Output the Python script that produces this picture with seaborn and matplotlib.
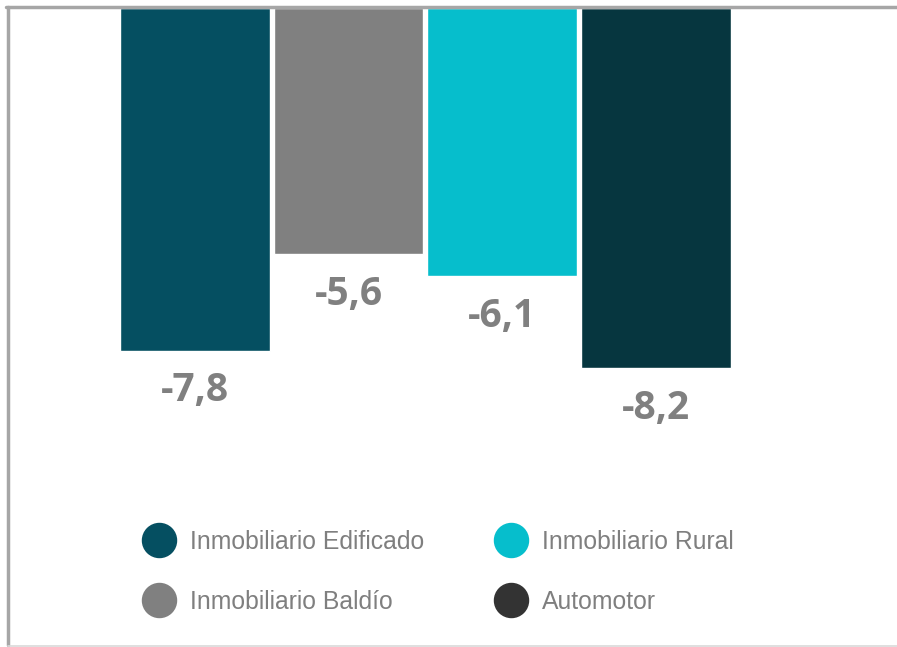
import matplotlib
matplotlib.use("Agg")
import matplotlib.pyplot as plt
import seaborn as sns
import pandas as pd
from matplotlib.lines import Line2D

# --- data ---
categories = ["Inmobiliario Edificado", "Inmobiliario Baldío", "Inmobiliario Rural", "Automotor"]
values = [-7.8, -5.6, -6.1, -8.2]
bar_colors = ["#054F61", "#808080", "#06BECC", "#06363F"]
legend_colors = ["#054F61", "#808080", "#06BECC", "#333333"]

W, H = 897, 647
fig = plt.figure(figsize=(W / 100, H / 100), dpi=100)
sns.set_style("white")
plt.rcParams["font.family"] = ["Liberation Sans", "DejaVu Sans"]

# axes: top edge at y=8px, bottom at y=645px, left 8px, right 895px
ax = fig.add_axes([8 / W, (H - 645) / H, 887 / W, 637 / H])

df = pd.DataFrame({"cat": categories, "val": values})
sns.barplot(data=df, x="cat", y="val", hue="cat", order=categories, hue_order=categories,
            palette=bar_colors, width=0.977, legend=False, saturation=1, ax=ax)

ax.set_ylim(-14.5, 0)
ax.set_xlim(-1.218, 4.56)
ax.set_xlabel("")
ax.set_ylabel("")
ax.set_xticks([])
ax.set_yticks([])
for s in ax.spines.values():
    s.set_visible(False)

# value labels below each bar
for i, v in enumerate(values):
    ax.annotate(f"{v:.1f}".replace(".", ","), xy=(i, v), xytext=(0, -15),
                textcoords="offset points", ha="center", va="top",
                fontsize=28, fontweight="bold", color="#808080",
                family=["Open Sans", "DejaVu Sans"])

# legend with circle markers
handles = [Line2D([0], [0], marker="o", linestyle="", markersize=24.5,
                  markerfacecolor=c, markeredgecolor=c) for c in legend_colors]
fig.legend(handles, categories, loc="upper left", bbox_to_anchor=(143 / W, 1 - 530 / H),
           ncol=2, frameon=False, fontsize=17.8, labelcolor="#7f7f7f",
           handlelength=1.3, handletextpad=0.6, labelspacing=1.45,
           columnspacing=2.87, borderpad=0, borderaxespad=0)

# outer frame lines
fig.add_artist(Line2D([7.5 / W, 7.5 / W], [1 - 6.5 / H, 1 - 645 / H], color="#a6a6a6", lw=2.5))
fig.add_artist(Line2D([6 / W, 1.0], [1 - 6.5 / H, 1 - 6.5 / H], color="#a6a6a6", lw=2.5))
fig.add_artist(Line2D([7.5 / W, 1.0], [1 - 645.5 / H, 1 - 645.5 / H], color="#d9d9d9", lw=1.2))

fig.savefig("out.png", dpi=100)
